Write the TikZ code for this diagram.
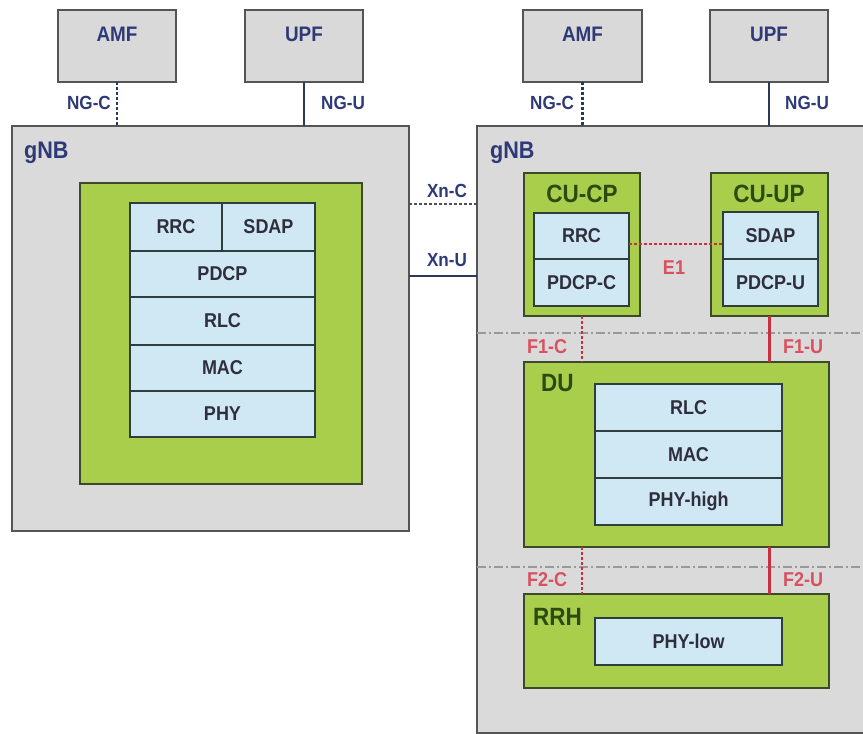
\documentclass[tikz,border=0pt]{standalone}
\usepackage{fontspec}
\setmainfont{Liberation Sans}[FakeStretch=0.9]
\usetikzlibrary{calc}
\definecolor{coregray}{HTML}{D9D9D9}
\definecolor{gnbgray}{HTML}{DADADA}
\definecolor{edgegray}{HTML}{555555}
\definecolor{boxgreen}{HTML}{A9CE4C}
\definecolor{greenedge}{HTML}{3B4A2C}
\definecolor{layerblue}{HTML}{CFE8F4}
\definecolor{layeredge}{HTML}{2E3D3D}
\definecolor{navy}{HTML}{2E3A78}
\definecolor{ifred}{HTML}{D9505F}
\definecolor{linkred}{HTML}{C8303F}
\definecolor{darkgreen}{HTML}{2C4A12}
\definecolor{linkblue}{HTML}{2C3A5A}
\definecolor{stacktext}{HTML}{2E2E3C}
\newcommand{\uplabel}[1]{\raisebox{24pt}{#1}}
\tikzset{
  px/.style={x=1pt,y=-1pt},
  corebox/.style={draw=edgegray, fill=coregray, line width=2pt, inner sep=0pt, outer sep=0pt, anchor=north west,
     text=navy, font=\fontsize{21}{23}\selectfont\bfseries},
  gnbbox/.style={draw=edgegray, fill=gnbgray, line width=1.5pt, inner sep=0pt, outer sep=0pt, anchor=north west},
  greenbox/.style={draw=greenedge, fill=boxgreen, line width=2pt, inner sep=0pt, outer sep=0pt, anchor=north west},
  layer/.style={draw=layeredge, fill=layerblue, line width=1.5pt, inner sep=0pt, outer sep=0pt, anchor=north west,
     text=stacktext, font=\fontsize{20}{22}\selectfont\bfseries},
  iflabel/.style={text=navy, font=\fontsize{19}{21}\selectfont\bfseries, inner sep=0pt},
  redlabel/.style={text=ifred, font=\fontsize{20}{22}\selectfont\bfseries, inner sep=0pt},
  gnblabel/.style={text=navy, font=\fontsize{24}{26}\selectfont\bfseries, inner sep=0pt, anchor=west},
  unitlabel/.style={text=darkgreen, font=\fontsize{25}{27}\selectfont\bfseries, inner sep=0pt},
  ctrlline/.style={draw=linkblue, line width=2.8pt, dash pattern=on 2.8pt off 2.2pt},
  userline/.style={draw=linkblue, line width=2.4pt},
  redctrl/.style={draw=linkred, line width=2.8pt, dash pattern=on 2.8pt off 2.2pt},
  reduser/.style={draw=linkred, line width=2.4pt},
  splitline/.style={draw=gray!80, line width=1.2pt, dash pattern=on 9pt off 3pt on 2pt off 3pt},
}
\begin{document}
\begin{tikzpicture}[px]
\useasboundingbox (0,0) rectangle (863,734);
\clip (0,0) rectangle (863,734);
\fill[white] (0,0) rectangle (863,734);

% ---------- left gNB ----------
\node[corebox, minimum width=118pt, minimum height=72pt] (AMF1) at (58,10) {\uplabel{AMF}};
\node[corebox, minimum width=118pt, minimum height=72pt] (UPF1) at (245,10) {\uplabel{UPF}};
\node[gnbbox, minimum width=397pt, minimum height=405pt] (gNB1) at (12,126) {};
\node[gnblabel] (gNB1lbl) at (24,153) {gNB};
\node[greenbox, minimum width=282pt, minimum height=301pt] (G1) at (80,183) {};
\node[layer, minimum width=92pt, minimum height=48pt] (RRC1) at (130,203) {RRC};
\node[layer, minimum width=93pt, minimum height=48pt] (SDAP1) at (222,203) {SDAP};
\node[layer, minimum width=185pt, minimum height=46pt] (PDCP1) at (130,251) {PDCP};
\node[layer, minimum width=185pt, minimum height=48pt] (RLC1) at (130,297) {RLC};
\node[layer, minimum width=185pt, minimum height=46pt] (MAC1) at (130,345) {MAC};
\node[layer, minimum width=185pt, minimum height=46pt] (PHY1) at (130,391) {PHY};

\draw[ctrlline] (AMF1.south) -- (AMF1.south |- gNB1.north);
\draw[userline] (UPF1.south) -- (UPF1.south |- gNB1.north);
\node[iflabel] (ngc1) at (89,103) {NG-C};
\node[iflabel] (ngu1) at (343,103) {NG-U};

% ---------- right gNB ----------
\node[corebox, minimum width=119pt, minimum height=72pt] (AMF2) at (523,10) {\uplabel{AMF}};
\node[corebox, minimum width=118pt, minimum height=72pt] (UPF2) at (710,10) {\uplabel{UPF}};
\node[gnbbox, minimum width=420pt, minimum height=607pt] (gNB2) at (477,126) {};
\node[gnblabel] (gNB2lbl) at (490,153) {gNB};

\draw[ctrlline] (AMF2.south) -- (AMF2.south |- gNB2.north);
\draw[userline] (UPF2.south) -- (UPF2.south |- gNB2.north);
\node[iflabel] (ngc2) at (552,103) {NG-C};
\node[iflabel] (ngu2) at (807,103) {NG-U};

% Xn interfaces
\coordinate (xc1) at ($(gNB1.north east)+(0,78)$);
\coordinate (xu1) at ($(gNB1.north east)+(0,150)$);
\draw[ctrlline, draw=edgegray!80!linkblue] (xc1) -- (xc1 -| gNB2.west);
\draw[userline] (xu1) -- (xu1 -| gNB2.west);
\node[iflabel] (xnc) at (447,191) {Xn-C};
\node[iflabel] (xnu) at (447,260) {Xn-U};

% split lines
\coordinate (f1a) at (477,333);
\coordinate (f1b) at (863,333);
\coordinate (f2a) at (477,567);
\coordinate (f2b) at (863,567);
\draw[splitline] (f1a) -- (f1b);
\draw[splitline] (f2a) -- (f2b);

% CU-CP
\node[greenbox, minimum width=116pt, minimum height=143pt] (CUCP) at (524,173) {};
\node[unitlabel] (cucplbl) at (582,194) {CU-CP};
\node[layer, minimum width=95pt, minimum height=46pt] (RRC2) at (534,213) {RRC};
\node[layer, minimum width=95pt, minimum height=47pt] (PDCPC) at (534,259) {PDCP-C};

% CU-UP
\node[greenbox, minimum width=117pt, minimum height=143pt] (CUUP) at (711,173) {};
\node[unitlabel] (cuuplbl) at (769,194) {CU-UP};
\node[layer, minimum width=95pt, minimum height=47pt] (SDAP2) at (723,212) {SDAP};
\node[layer, minimum width=95pt, minimum height=47pt] (PDCPU) at (723,259) {PDCP-U};

% E1
\coordinate (e1a) at ($(RRC2.east)+(0,8)$);
\draw[redctrl] (e1a) -- (e1a -| SDAP2.west);
\node[redlabel] (e1) at (674,268) {E1};

% DU
\node[greenbox, minimum width=305pt, minimum height=185pt] (DU) at (524,362) {};
\node[unitlabel, anchor=west] (dulbl) at (541,383) {DU};
\node[layer, minimum width=187pt, minimum height=47pt] (RLC2) at (595,384) {RLC};
\node[layer, minimum width=187pt, minimum height=47pt] (MAC2) at (595,431) {MAC};
\node[layer, minimum width=187pt, minimum height=47pt] (PHYH) at (595,478) {PHY-high};

% F1
\draw[redctrl] (CUCP.south) -- (CUCP.south |- DU.north);
\draw[reduser] (CUUP.south) -- (CUUP.south |- DU.north);
\node[redlabel] (f1c) at (547,347) {F1-C};
\node[redlabel] (f1u) at (803,347) {F1-U};

% RRH
\node[greenbox, minimum width=305pt, minimum height=94pt] (RRH) at (524,594) {};
\node[unitlabel, anchor=west] (rrhlbl) at (533,617) {RRH};
\node[layer, minimum width=187pt, minimum height=47pt] (PHYL) at (595,618) {PHY-low};

% F2
\draw[redctrl] (CUCP.south |- DU.south) -- (CUCP.south |- RRH.north);
\draw[reduser] (CUUP.south |- DU.south) -- (CUUP.south |- RRH.north);
\node[redlabel] (f2c) at (547,580) {F2-C};
\node[redlabel] (f2u) at (803,580) {F2-U};
\end{tikzpicture}
\end{document}
